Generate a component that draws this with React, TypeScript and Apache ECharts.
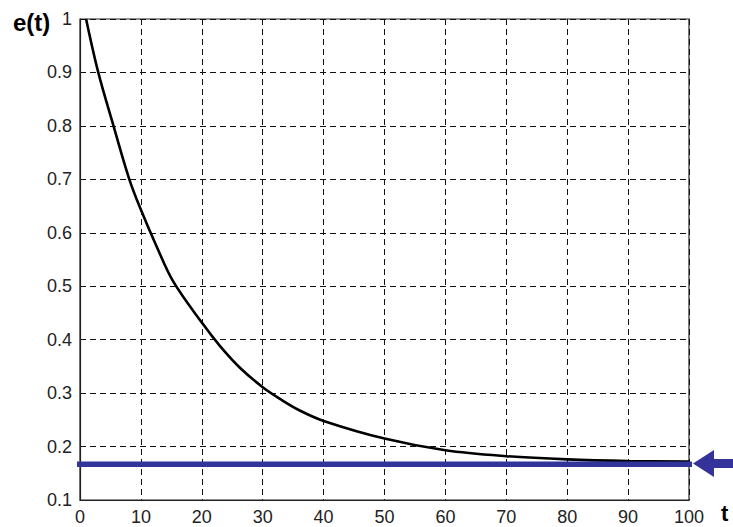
import React, { useEffect, useRef } from "react";
import * as echarts from "echarts";

const tValues = [1, 3, 5.5, 8.1, 10, 12.6, 15.3, 20, 23, 26.3, 30, 33, 36, 40, 50, 60, 70, 80, 90, 100];
const eValues = [1.0, 0.9, 0.8, 0.7, 0.643, 0.574, 0.509, 0.432, 0.388, 0.347, 0.311, 0.288, 0.268, 0.248, 0.215, 0.193, 0.182, 0.176, 0.173, 0.172];
const limitT = [-0.6, 100.5];
const limitValue = 0.167;
const xTicks = { min: 0, max: 100, interval: 10 };
const yTicks = { min: 0.1, max: 1, interval: 0.1 };

const FONT = "'Liberation Sans', Arial, Helvetica, sans-serif";

export default function App() {
  const ref = useRef<HTMLDivElement>(null);
  useEffect(() => {
    if (!ref.current) return;
    const chart = echarts.init(ref.current, undefined, { renderer: "svg" });
    const grid = { left: 80, top: 19, width: 609, height: 481 };
    chart.setOption({
      animation: false,
      backgroundColor: "#ffffff",
      grid: { ...grid, show: true, borderColor: "#222", borderWidth: 1.2, backgroundColor: "transparent" },
      xAxis: {
        type: "value",
        min: xTicks.min,
        max: xTicks.max,
        interval: xTicks.interval,
        axisLine: { show: true, lineStyle: { color: "#222", width: 1.2 } },
        axisTick: { show: false },
        axisLabel: { color: "#222", fontSize: 18, fontFamily: FONT, margin: 8 },
        splitLine: { show: true, lineStyle: { color: "#111", type: [6, 4], width: 1 } },
      },
      yAxis: {
        type: "value",
        min: yTicks.min,
        max: yTicks.max,
        interval: yTicks.interval,
        axisLine: { show: true, lineStyle: { color: "#222", width: 1.2 } },
        axisTick: { show: false },
        axisLabel: {
          color: "#222",
          fontSize: 18,
          fontFamily: FONT,
          margin: 8,
          formatter: (v: number) => String(+v.toFixed(1)),
        },
        splitLine: { show: true, lineStyle: { color: "#111", type: [6, 4], width: 1 } },
      },
      series: [
        {
          type: "line",
          data: tValues.map((t, i) => [t, eValues[i]]),
          showSymbol: false,
          symbol: "none",
          smooth: 0.35,
          lineStyle: { color: "#000", width: 2.6 },
          z: 3,
        },
        {
          type: "line",
          data: limitT.map((t) => [t, limitValue]),
          showSymbol: false,
          symbol: "none",
          clip: false,
          lineStyle: { color: "#333399", width: 5.5, cap: "butt" },
          z: 4,
        },
      ],
      graphic: [
        {
          type: "text",
          left: 13,
          top: 10,
          style: { text: "e(t)", font: `bold 24px ${FONT}`, fill: "#000" },
        },
        {
          type: "text",
          left: 721,
          top: 502,
          style: { text: "t", font: `bold 22px ${FONT}`, fill: "#000" },
        },
        {
          type: "polygon",
          shape: { points: [[693, 463.5], [714, 450], [714, 477]] },
          style: { fill: "#333399" },
        },
        {
          type: "rect",
          shape: { x: 713, y: 459, width: 20, height: 9 },
          style: { fill: "#333399" },
        },
      ],
    });
    return () => chart.dispose();
  }, []);
  return (
    <div
      ref={ref}
      style={{ position: "fixed", left: 0, top: 0, width: 733, height: 527, background: "#fff" }}
    />
  );
}
